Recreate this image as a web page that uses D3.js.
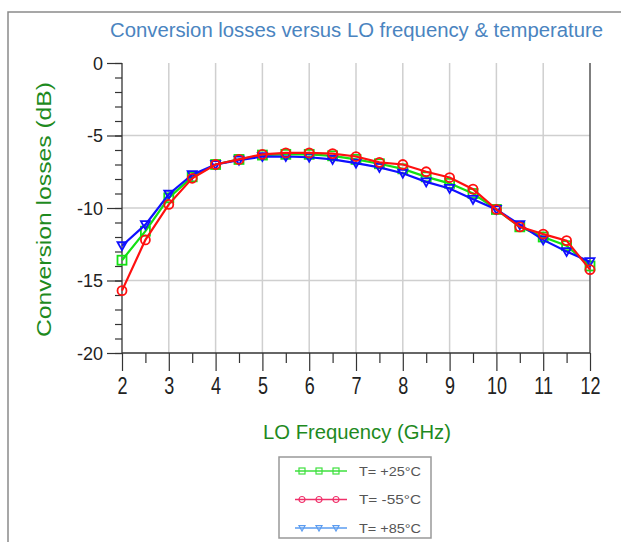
<!DOCTYPE html>
<html><head><meta charset="utf-8">
<script src="https://cdn.jsdelivr.net/npm/d3@7"></script>
<style>body{margin:0;background:#fff}svg{display:block}text{font-family:"Liberation Sans",Arial,sans-serif}</style>
</head><body>
<script>
const title = "Conversion losses versus LO frequency & temperature";
const freq = [2,2.5,3,3.5,4,4.5,5,5.5,6,6.5,7,7.5,8,8.5,9,9.5,10,10.5,11,11.5,12];
const t25  = [-13.6,-11.6,-9.3,-7.85,-7.0,-6.65,-6.35,-6.3,-6.3,-6.4,-6.65,-6.95,-7.3,-7.85,-8.3,-9.0,-10.1,-11.3,-12.0,-12.6,-14.0];
const tm55 = [-15.7,-12.2,-9.75,-7.95,-7.0,-6.65,-6.3,-6.2,-6.2,-6.25,-6.45,-6.85,-7.0,-7.5,-7.9,-8.7,-10.1,-11.3,-11.8,-12.25,-14.25];
const t85  = [-12.6,-11.15,-9.05,-7.7,-7.0,-6.7,-6.45,-6.45,-6.5,-6.65,-6.9,-7.2,-7.6,-8.2,-8.65,-9.4,-10.1,-11.15,-12.2,-13.0,-13.7];
const xTicks = [2,3,4,5,6,7,8,9,10,11,12];
const yTicks = [0,-5,-10,-15,-20];
const seriesNames = ["T= +25\u00B0C","T= -55\u00B0C","T= +85\u00B0C"];

const W=621,H=542;
const svg=d3.select("body").append("svg").attr("width",W).attr("height",H);
const x=d3.scaleLinear().domain([2,12]).range([122,590]);
const y=d3.scaleLinear().domain([-20,0]).range([353,63]);

// outer frame
svg.append("path").attr("d","M8,542V12H621").attr("fill","none").attr("stroke","#8a8a8a").attr("stroke-width",1.5);

// title
svg.append("text").attr("x",110).attr("y",37).attr("font-size",20).attr("fill","#4a84c0")
  .attr("textLength",493).attr("lengthAdjust","spacingAndGlyphs").text(title);

// grid
const g=svg.append("g");
g.selectAll(".vg").data(xTicks.slice(1,-1)).join("line")
  .attr("x1",d=>x(d)).attr("x2",d=>x(d)).attr("y1",y(0)).attr("y2",y(-20))
  .attr("stroke","#cfcfcf").attr("stroke-width",1.5);
g.selectAll(".hg").data([-5,-10,-15]).join("line")
  .attr("x1",x(2)).attr("x2",x(12)).attr("y1",d=>y(d)).attr("y2",d=>y(d))
  .attr("stroke","#cfcfcf").attr("stroke-width",1.5);
// right border
g.append("line").attr("x1",x(12)).attr("x2",x(12)).attr("y1",y(0)).attr("y2",y(-20)).attr("stroke","#555").attr("stroke-width",1.5);

// y axis
const yAx=svg.append("g").attr("transform",`translate(${x(2)},0)`);
yAx.call(d3.axisLeft(y).tickValues(d3.range(0,-21,-1)).tickSize(7).tickFormat(""));
yAx.call(g2=>g2.select(".domain").remove());
yAx.append("line").attr("x1",0).attr("x2",0).attr("y1",y(0)).attr("y2",y(-20)).attr("stroke","#333").attr("stroke-width",1.3);
yAx.selectAll(".tick line").attr("stroke","#333").attr("stroke-width",1.2);
const yMaj=svg.append("g").attr("transform",`translate(${x(2)},0)`);
yMaj.call(d3.axisLeft(y).tickValues(yTicks).tickSize(15).tickPadding(4).tickFormat(d=>d));
yMaj.select(".domain").remove();
yMaj.selectAll(".tick line").attr("stroke","#333").attr("stroke-width",1.2);
yMaj.selectAll(".tick text").attr("font-size",18).attr("fill","#222").attr("font-family","Liberation Sans, Arial, sans-serif")
  .attr("dy","0.34em");

// x axis
const xAx=svg.append("g").attr("transform",`translate(0,${y(-20)})`);
xAx.call(d3.axisBottom(x).tickValues(d3.range(2.5,12,1)).tickSize(10).tickFormat(""));
xAx.select(".domain").remove();
xAx.selectAll(".tick line").attr("stroke","#333").attr("stroke-width",1.2);
const xMaj=svg.append("g").attr("transform",`translate(0,${y(-20)})`);
xMaj.call(d3.axisBottom(x).tickValues(xTicks).tickSize(18).tickFormat(""));
xMaj.select(".domain").remove();
xMaj.selectAll(".tick line").attr("stroke","#333").attr("stroke-width",1.2);
xMaj.append("line").attr("x1",x(2)).attr("x2",x(12)).attr("y1",0).attr("y2",0).attr("stroke","#333").attr("stroke-width",1.3);
xMaj.selectAll(".tick").append("text").attr("text-anchor","middle").attr("fill","#222")
  .attr("font-size",18).attr("transform","translate(0,41) scale(1,1.3)").text(d=>d);

// axis labels
svg.append("text").attr("transform","translate(51,337) rotate(-90)").attr("font-size",20).attr("fill","#1e8a1e")
  .attr("textLength",255).attr("lengthAdjust","spacingAndGlyphs").text("Conversion losses (dB)");
svg.append("text").attr("x",263).attr("y",439).attr("font-size",20).attr("fill","#1e8a1e")
  .attr("textLength",188).attr("lengthAdjust","spacingAndGlyphs").text("LO Frequency (GHz)");

// series
const series=[
  {name:seriesNames[0],vals:t25,color:"#13e013",lc:"#3ee03e",shape:"square"},
  {name:seriesNames[2],vals:t85,color:"#1010ff",lc:"#5b9cf0",shape:"tri"},
  {name:seriesNames[1],vals:tm55,color:"#ff1010",lc:"#f0306a",shape:"circle"}
];
const line=d3.line().x(d=>x(d[0])).y(d=>y(d[1]));
function marker(sel,shape,color,s){
  if(shape==="square") sel.append("rect").attr("x",-s/2).attr("y",-s/2).attr("width",s).attr("height",s);
  else if(shape==="circle") sel.append("circle").attr("r",s/2);
  else sel.append("path").attr("d",`M${-s/2},${-s/2.6}L${s/2},${-s/2.6}L0,${s/2}Z`);
  sel.selectAll("rect,circle,path").attr("fill","none").attr("stroke",color).attr("stroke-width",1.8);
}
series.forEach(s=>{
  const pts=freq.map((f,i)=>[f,s.vals[i]]);
  svg.append("path").datum(pts).attr("d",line).attr("fill","none").attr("stroke",s.color).attr("stroke-width",2.2);
  svg.append("g").selectAll("g").data(pts).join("g").attr("transform",d=>`translate(${x(d[0])},${y(d[1])})`)
    .each(function(){marker(d3.select(this),s.shape,s.color,9);});
});

// legend
const lg=svg.append("g");
lg.append("rect").attr("x",279).attr("y",457).attr("width",152).attr("height",81).attr("fill","#fff").attr("stroke","#999").attr("stroke-width",1.5);
const legOrder=[series[0],series[2],series[1]];
legOrder.forEach((s,i)=>{
  const ly=471+i*28.5;
  lg.append("line").attr("x1",295).attr("x2",347).attr("y1",ly).attr("y2",ly).attr("stroke",s.lc).attr("stroke-width",1.5);
  [302,319,336].forEach(mx=>{
    const mg=lg.append("g").attr("transform",`translate(${mx},${ly})`);
    marker(mg,s.shape,s.lc,6);
    mg.selectAll("rect,circle,path").attr("stroke-width",1.2);
  });
  lg.append("text").attr("x",359).attr("y",ly+4.5).attr("font-size",13).attr("fill","#555")
    .attr("textLength",62).attr("lengthAdjust","spacingAndGlyphs").text(s.name);
});
</script>
</body></html>
